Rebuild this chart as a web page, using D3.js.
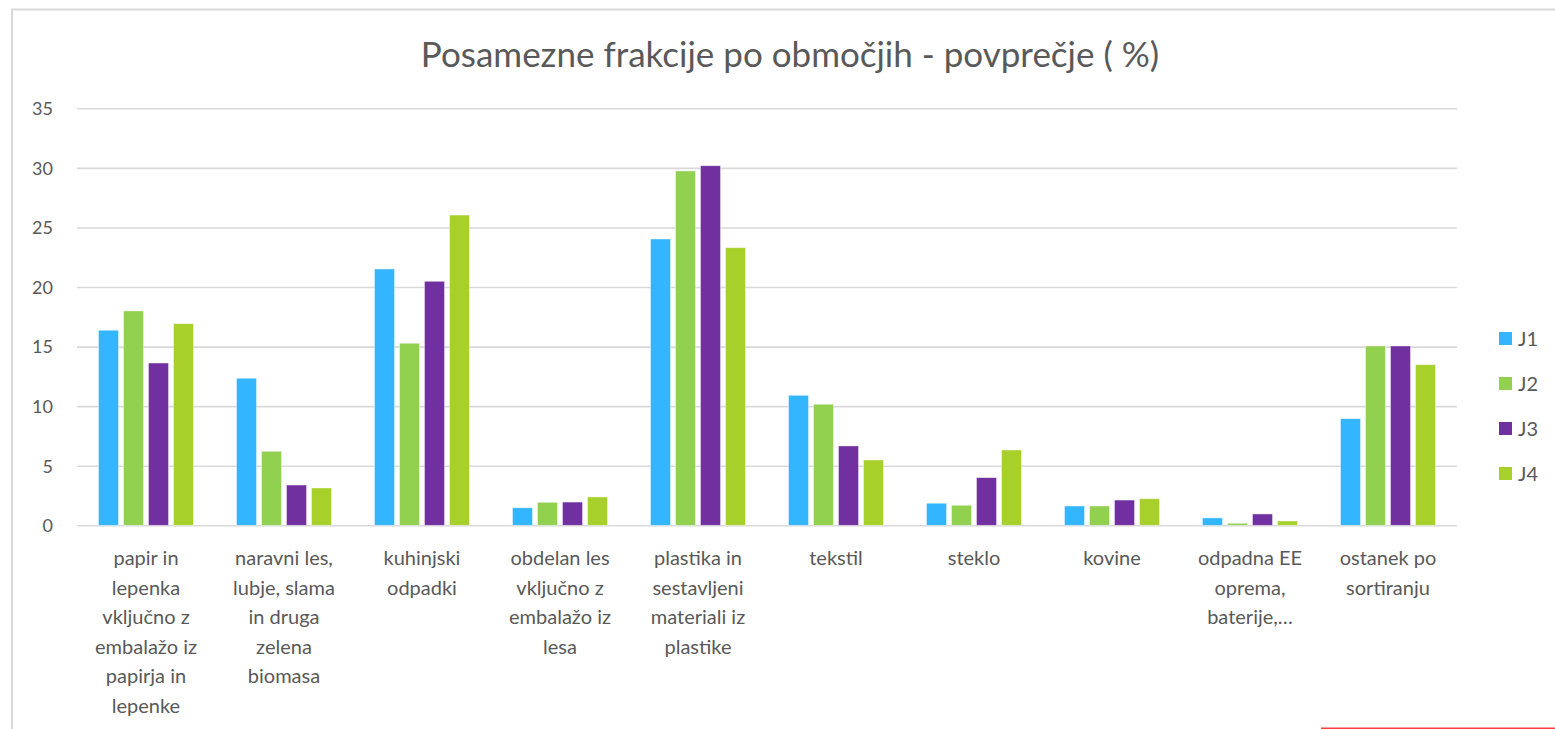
<!DOCTYPE html>
<html>
<head>
<meta charset="utf-8">
<script src="https://cdn.jsdelivr.net/npm/d3@7"></script>
<style>
  html, body { margin: 0; padding: 0; background: #fff; }
  svg { display: block; font-family: Lato, "Open Sans", sans-serif; }
</style>
</head>
<body>
<svg id="chart" width="1555" height="729"></svg>
<script>
const title = "Posamezne frakcije po območjih - povprečje ( %)";
const categories = [
  "papir in lepenka vključno z embalažo iz papirja in lepenke",
  "naravni les, lubje, slama in druga zelena biomasa",
  "kuhinjski odpadki",
  "obdelan les vključno z embalažo iz lesa",
  "plastika in sestavljeni materiali iz plastike",
  "tekstil",
  "steklo",
  "kovine",
  "odpadna EE oprema, baterije,…",
  "ostanek po sortiranju"
];
const categoryLines = [
  ["papir in", "lepenka", "vključno z", "embalažo iz", "papirja in", "lepenke"],
  ["naravni les,", "lubje, slama", "in druga", "zelena", "biomasa"],
  ["kuhinjski", "odpadki"],
  ["obdelan les", "vključno z", "embalažo iz", "lesa"],
  ["plastika in", "sestavljeni", "materiali iz", "plastike"],
  ["tekstil"],
  ["steklo"],
  ["kovine"],
  ["odpadna EE", "oprema,", "baterije,…"],
  ["ostanek po", "sortiranju"]
];
const seriesNames = ["J1", "J2", "J3", "J4"];
const J1 = [16.37, 12.34, 21.51, 1.47, 24.03, 10.91, 1.85, 1.62, 0.62, 8.95];
const J2 = [17.99, 6.21, 15.28, 1.93, 29.74, 10.16, 1.68, 1.62, 0.17, 15.05];
const J3 = [13.62, 3.38, 20.48, 1.95, 30.18, 6.66, 4.00, 2.12, 0.95, 15.05];
const J4 = [16.92, 3.13, 26.04, 2.38, 23.30, 5.48, 6.32, 2.23, 0.36, 13.48];
const yTicks = [0, 5, 10, 15, 20, 25, 30, 35];
const colors = ["#33b5ff", "#92d050", "#7030a0", "#a8d02a"];

const series = [J1, J2, J3, J4];
const svg = d3.select("#chart");
const textColor = "#595959";

// outer frame
svg.append("rect")
  .attr("x", 12).attr("y", 9.5)
  .attr("width", 1560).attr("height", 760)
  .attr("fill", "none").attr("stroke", "#d9d9d9").attr("stroke-width", 2);

const plot = { left: 77, right: 1457, top: 108.3, bottom: 525.3 };

const x0 = d3.scaleBand().domain(categories)
  .range([plot.left, plot.right])
  .paddingInner(0.3116).paddingOuter(0.1558);
const x1 = d3.scaleBand().domain(seriesNames)
  .range([0, x0.bandwidth()])
  .paddingInner(0.2).paddingOuter(0);
const y = d3.scaleLinear().domain([0, 35]).range([plot.bottom, plot.top]);

// title
svg.append("text")
  .attr("x", 790).attr("y", 67)
  .attr("text-anchor", "middle")
  .attr("font-size", 35)
  .attr("fill", textColor)
  .text(title);

// gridlines + y axis
const yAxis = d3.axisLeft(y).tickValues(yTicks)
  .tickSize(-(plot.right - plot.left)).tickPadding(0);
const gy = svg.append("g")
  .attr("transform", `translate(${plot.left},0)`)
  .call(yAxis);
gy.select(".domain").remove();
gy.selectAll(".tick line").attr("stroke", "#d9d9d9").attr("stroke-width", 1.6);
gy.selectAll(".tick text")
  .attr("x", -24)
  .attr("font-size", 18).attr("fill", textColor)
  .attr("font-family", "Lato, 'Open Sans', sans-serif")
  .attr("text-anchor", "end").attr("dy", "0.35em");

// bars
const groups = svg.append("g").selectAll("g")
  .data(categories).join("g")
  .attr("transform", d => `translate(${x0(d)},0)`);
groups.selectAll("rect")
  .data((d, i) => seriesNames.map((s, k) => ({ s, k, v: series[k][i] })))
  .join("rect")
  .attr("x", d => x1(d.s))
  .attr("width", x1.bandwidth())
  .attr("y", d => y(d.v))
  .attr("height", d => y(0) - y(d.v))
  .attr("fill", d => colors[d.k])
  .attr("stroke", "#ffffff").attr("stroke-opacity", 0.5).attr("stroke-width", 0.8);

// x axis labels
const gx = svg.append("g");
categories.forEach((c, i) => {
  const cx = x0(c) + x0.bandwidth() / 2;
  const t = gx.append("text")
    .attr("x", cx).attr("y", 565)
    .attr("text-anchor", "middle")
    .attr("font-size", 20).attr("fill", textColor);
  categoryLines[i].forEach((line, j) => {
    t.append("tspan").attr("x", cx).attr("dy", j === 0 ? 0 : 29.5).text(line);
  });
});

// legend
const legend = svg.append("g");
seriesNames.forEach((s, k) => {
  const cy = 339 + k * 45;
  legend.append("rect")
    .attr("x", 1499).attr("y", cy - 7)
    .attr("width", 13).attr("height", 13)
    .attr("fill", colors[k]);
  legend.append("text")
    .attr("x", 1518).attr("y", cy).attr("dy", "0.35em")
    .attr("font-size", 20).attr("fill", textColor)
    .text(s);
});

// red line at bottom right
svg.append("line")
  .attr("x1", 1321).attr("x2", 1555)
  .attr("y1", 728.3).attr("y2", 728.3)
  .attr("stroke", "#ff3b3b").attr("stroke-width", 1.5);
</script>
</body>
</html>
